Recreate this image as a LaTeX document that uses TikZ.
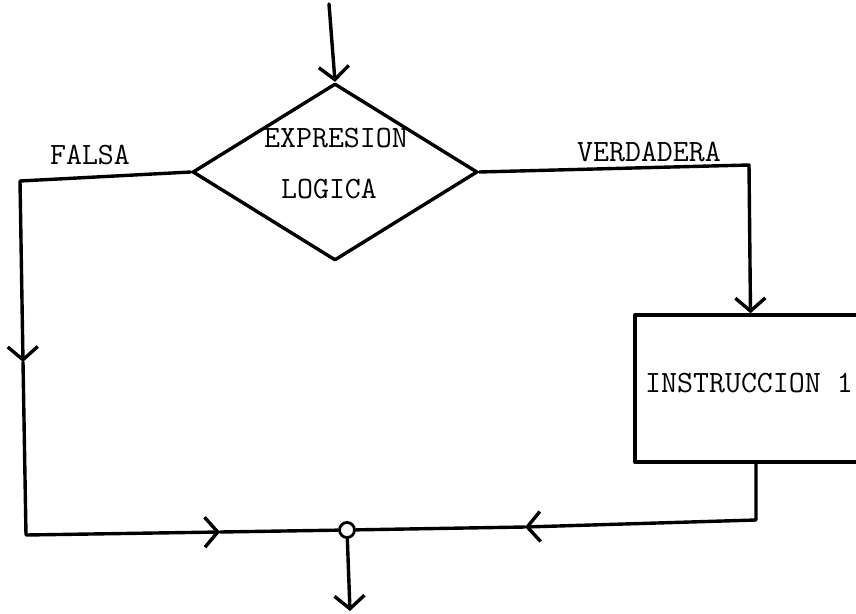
\documentclass[tikz,border=0pt]{standalone}
\usetikzlibrary{arrows.meta,shapes.geometric}
\begin{document}
\begin{tikzpicture}[x=1pt,y=-1pt, line width=3.4pt, line cap=round, line join=round,
  barb/.style={-{Straight Barb[length=13pt,width=30pt]}},
  lbl/.style={font=\fontsize{31}{31}\selectfont\ttfamily, inner sep=0pt}]
\useasboundingbox (0,0) rectangle (856,613);
% shapes
\node[diamond, draw, minimum width=285pt, minimum height=177pt, inner sep=0pt] (d) at (335,172) {};
\node[lbl] (dt1) at (336,138) {EXPRESION};
\node[lbl] (dt2) at (329,189) {LOGICA};
\node[lbl] (f) at (90,155) {FALSA};
\node[lbl] (v) at (649,152) {VERDADERA};
\node[draw, rectangle, minimum width=231pt, minimum height=147pt, inner sep=0pt] (b) at (750.5,388.5) {};
\node[lbl] (bt) at (749,383) {INSTRUCCION 1};
\node[circle, draw, minimum size=15pt, inner sep=0pt, line width=2.8pt] (j) at (347,530) {};
% coordinates
\coordinate (top) at (329,4);
\coordinate (lc) at (20,181);
\coordinate (la) at (23,362);
\coordinate (lb) at (26,535);
\coordinate (ba) at (220,532);
\coordinate (rc) at (749,165);
\coordinate (rb) at (756,520);
\coordinate (bb) at (525,527);
\coordinate (bot) at (350,611);
% connectors
\draw[barb] (top) -- (d.north);
\draw[barb] (d.west) -- (lc) -- (la);
\draw[barb] (la) -- (lb) -- (ba);
\draw (ba) -- (j);
\draw[barb] (d.east) -- (rc) -- (b.north);
\draw[barb] (b.south -| rb) -- (rb) -- (bb);
\draw (bb) -- (j);
\draw[barb] (j) -- (bot);
\end{tikzpicture}
\end{document}
